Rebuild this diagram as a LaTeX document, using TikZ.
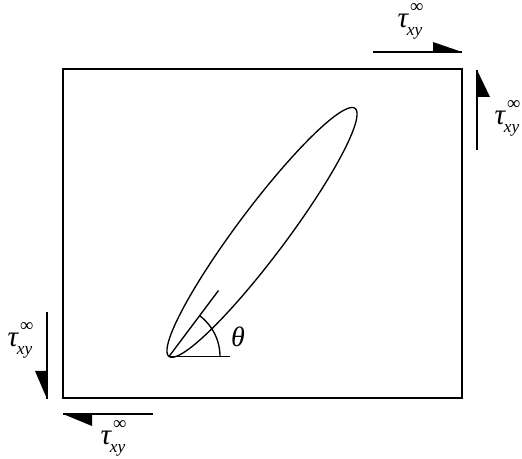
\documentclass[tikz,border=0pt]{standalone}
\usepackage{fontspec}
\setmainfont{Liberation Serif}
\newcommand{\taulabel}{{\fontsize{22}{22}\selectfont\itshape τ}\kern-1pt\rlap{\raisebox{11.5pt}{\kern2.5pt\fontsize{14}{14}\selectfont ∞}}\raisebox{-5.5pt}{\fontsize{13}{13}\selectfont\itshape xy}}
\begin{document}
\begin{tikzpicture}[x=0.75pt,y=-0.75pt,line width=1pt,line join=miter,
  lab/.style={inner sep=0pt,anchor=base west},
  head/.style={fill=black,draw=none}]
\useasboundingbox (0,0) rectangle (522,459);
% plate
\draw (63,69) rectangle (462,398);
% crack (ellipse)
\coordinate (tip) at (169,356.5);
\coordinate (ctr) at (262,232.4);
\draw plot[domain=0:360,samples=200,smooth cycle,variable=\t]
  ({262+155*cos(\t)*0.6+24.5*sin(\t)*0.8},
   {232.4-155*cos(\t)*0.8+24.5*sin(\t)*0.6});
% angle
\coordinate (axisend) at (218.5,290.5);
\coordinate (horend) at (230,356.5);
\draw (tip) -- (axisend);
\draw (tip) -- (horend);
\draw plot[domain=0:53,samples=30,smooth,variable=\t]
  ({169+51*cos(\t)},{356.5-51*sin(\t)});
\node[inner sep=0pt] (theta) at (238,337) {\fontsize{21}{21}\selectfont\itshape θ};
% top shear
\coordinate (t1) at (373,52);
\coordinate (t2) at (462,52);
\draw (t1) -- (t2);
\fill[head] (433,42) -- (433,52) -- (t2) -- cycle;
\node[lab] (ltop) at (397,28) {\taulabel};
% right shear
\coordinate (r1) at (477,150);
\coordinate (r2) at (477,70);
\draw (r1) -- (r2);
\fill[head] (r2) -- (477,97) -- (490,97) -- cycle;
\node[lab] (lright) at (494,125) {\taulabel};
% left shear
\coordinate (l1) at (47,312);
\coordinate (l2) at (47,399);
\draw (l1) -- (l2);
\fill[head] (l2) -- (47,371) -- (35,371) -- cycle;
\node[lab] (lleft) at (7,347) {\taulabel};
% bottom shear
\coordinate (b1) at (153,414);
\coordinate (b2) at (63,414);
\draw (b1) -- (b2);
\fill[head] (b2) -- (92,414) -- (92,426) -- cycle;
\node[lab] (lbottom) at (100,445) {\taulabel};
\end{tikzpicture}
\end{document}
